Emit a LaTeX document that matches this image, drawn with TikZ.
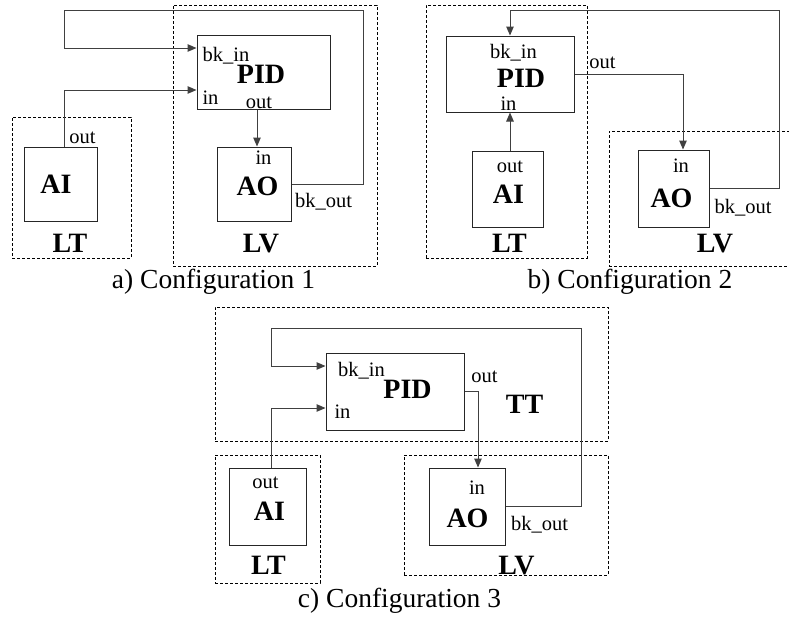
\documentclass[tikz,border=0pt]{standalone}
\usepackage{fontspec}
\setmainfont{Liberation Serif}
\usetikzlibrary{arrows.meta}
\tikzset{
  blockbox/.style={draw=black!85, line width=1pt, inner sep=0pt},
  devbox/.style={draw=black, line width=0.9pt, dash pattern=on 3pt off 2pt, inner sep=0pt},
  wire/.style={draw=black!75, line width=1pt},
  flow/.style={wire, -{Triangle[length=9pt,width=7.5pt]}},
  port/.style={anchor=base, inner sep=0pt, font=\fontsize{20.5}{24}\selectfont},
  blockname/.style={anchor=base, inner sep=0pt, text depth=0pt, font=\fontsize{28}{32}\selectfont\bfseries},
  caption/.style={anchor=base, inner sep=0pt, font=\fontsize{27.5}{31}\selectfont},
}
\begin{document}
\begin{tikzpicture}[x=1pt,y=-1pt]
\clip (0,0) rectangle (789,619);
\fill[white] (0,0) rectangle (789,619);

% ---------------- a) Configuration 1 ----------------
\node[devbox, minimum width=204pt, minimum height=261pt] (lv1) at (275,135.5) {};
\node[devbox, minimum width=119pt, minimum height=141pt] (lt1) at (71.5,187.5) {};
\node[blockbox, minimum width=133pt, minimum height=74pt] (pid1) at (263.5,72) {};
\node[blockbox, minimum width=73pt, minimum height=74pt] (ai1) at (60.5,184) {};
\node[blockbox, minimum width=74pt, minimum height=74pt] (ao1) at (254,184) {};

\coordinate (fb1a) at (363,10);
\coordinate (fb1b) at (64,48);
\coordinate (pid1bk) at ([yshift=24pt]pid1.west);
\coordinate (pid1in) at ([yshift=-18pt]pid1.west);
\coordinate (ai1out) at ([xshift=3.5pt]ai1.north);
\coordinate (pid1out) at ([xshift=-6.5pt]pid1.south);

\draw[flow] (ao1.east) -| (fb1a) -| (fb1b) -- (pid1bk);
\draw[flow] (ai1out) |- (pid1in);
\draw[flow] (pid1out) -- (pid1out |- ao1.north);

\node[port] (t1bkin) at (226,61) {bk\_in};
\node[blockname] (t1pid) at (261,83) {PID};
\node[port] (t1in) at (210.5,104) {in};
\node[port] (t1out) at (259,108) {out};
\node[port] (t1aiout) at (82.5,143) {out};
\node[blockname] (t1ai) at (56,193) {AI};
\node[port] (t1aoin) at (263.5,164) {in};
\node[blockname] (t1ao) at (257.5,195) {AO};
\node[port] (t1bkout) at (323.5,207) {bk\_out};
\node[blockname] (t1lt) at (70,252) {LT};
\node[blockname] (t1lv) at (261,252) {LV};
\node[caption] (cap1) at (213.5,288) {a) Configuration 1};

% ---------------- b) Configuration 2 ----------------
\node[devbox, minimum width=161pt, minimum height=253pt] (lt2) at (506.5,131.5) {};
\node[devbox, minimum width=183pt, minimum height=135pt] (lv2) at (700.5,198.5) {};
\node[blockbox, minimum width=128pt, minimum height=76pt] (pid2) at (510,74) {};
\node[blockbox, minimum width=71pt, minimum height=76pt] (ai2) at (507.5,189) {};
\node[blockbox, minimum width=71pt, minimum height=77pt] (ao2) at (673.5,188.5) {};

\coordinate (fb2a) at (779,10);
\coordinate (ao2in) at ([xshift=9.5pt]ao2.north);

\draw[flow] (ao2.east) -| (fb2a) -| (pid2.north);
\draw[flow] (ai2.north -| pid2.south) -- (pid2.south);
\draw[flow] (pid2.east) -| (ao2in);

\node[port] (t2bkin) at (513.5,58) {bk\_in};
\node[blockname] (t2pid) at (521,87.5) {PID};
\node[port] (t2in) at (508.5,110) {in};
\node[port] (t2out) at (602.5,68) {out};
\node[port] (t2aiout) at (510,172) {out};
\node[blockname] (t2ai) at (508.5,203) {AI};
\node[blockname] (t2lt) at (509.5,252) {LT};
\node[port] (t2aoin) at (681,172) {in};
\node[blockname] (t2ao) at (671.5,207) {AO};
\node[port] (t2bkout) at (743,213) {bk\_out};
\node[blockname] (t2lv) at (715,252) {LV};
\node[caption] (cap2) at (630,288) {b) Configuration 2};

% ---------------- c) Configuration 3 ----------------
\node[devbox, minimum width=393pt, minimum height=134pt] (tt3) at (411.5,374) {};
\node[devbox, minimum width=105pt, minimum height=128pt] (lt3) at (267.5,519) {};
\node[devbox, minimum width=204pt, minimum height=120pt] (lv3) at (506,515) {};
\node[blockbox, minimum width=138pt, minimum height=77pt] (pid3) at (395,391.5) {};
\node[blockbox, minimum width=77pt, minimum height=77pt] (ai3) at (267.5,506.5) {};
\node[blockbox, minimum width=76pt, minimum height=77pt] (ao3) at (467,506.5) {};

\coordinate (fb3a) at (581,328);
\coordinate (fb3b) at (271,366);
\coordinate (pid3bk) at ([yshift=25.5pt]pid3.west);
\coordinate (pid3in) at ([yshift=-16.5pt]pid3.west);
\coordinate (ai3out) at ([xshift=3.5pt]ai3.north);
\coordinate (ao3in) at ([xshift=11pt]ao3.north);

\draw[flow] (ao3.east) -| (fb3a) -| (fb3b) -- (pid3bk);
\draw[flow] (ai3out) |- (pid3in);
\draw[flow] (pid3.east) -| (ao3in);

\node[port] (t3bkin) at (361.5,376) {bk\_in};
\node[blockname] (t3pid) at (407.5,398) {PID};
\node[port] (t3in) at (342.5,418) {in};
\node[port] (t3out) at (484.5,382) {out};
\node[blockname] (t3tt) at (524.5,413) {TT};
\node[port] (t3aiout) at (265.5,488) {out};
\node[blockname] (t3ai) at (269.5,520) {AI};
\node[blockname] (t3lt) at (268.5,574) {LT};
\node[port] (t3aoin) at (477,494) {in};
\node[blockname] (t3ao) at (467.5,527) {AO};
\node[port] (t3bkout) at (539.5,530) {bk\_out};
\node[blockname] (t3lv) at (516.5,574) {LV};
\node[caption] (cap3) at (399.5,607) {c) Configuration 3};
\end{tikzpicture}
\end{document}
